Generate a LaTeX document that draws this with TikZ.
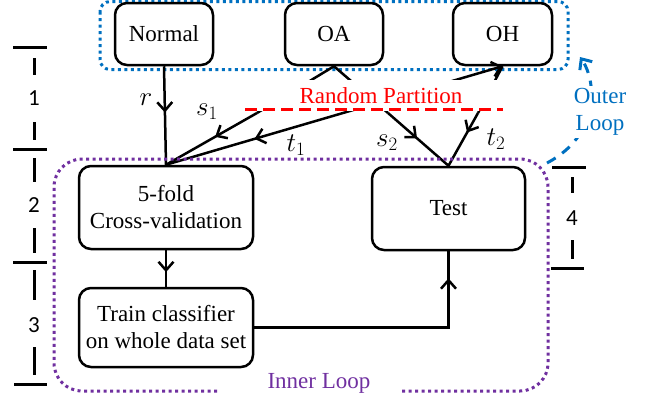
\RequirePackage{fix-cm}
\documentclass[tikz,border=0pt]{standalone}
\usepackage{fontspec}
\setmainfont{Liberation Serif}
\newfontfamily\numfont{Carlito}
\usetikzlibrary{arrows.meta,decorations.markings}
\definecolor{oblue}{RGB}{0,112,192}
\definecolor{opurple}{RGB}{112,48,160}
\definecolor{ored}{RGB}{255,0,0}
\begin{document}
\begin{tikzpicture}[x=1pt,y=-1pt,
  box/.style={draw, line width=2.5pt, rounded corners=12pt, align=center,
    font=\fontsize{23}{27}\selectfont, inner sep=0pt},
  conn/.style={line width=2.5pt},
  barb/.style={-{Straight Barb[length=8.5pt,width=15pt]}},
  midarrow/.style={postaction={decorate}, decoration={markings,
    mark=at position #1 with {\arrow{Straight Barb[length=8.5pt,width=15pt]}}}},
  lbl/.style={font=\fontsize{23}{27}\selectfont, inner sep=0pt},
  mlbl/.style={font=\fontsize{27}{30}\selectfont, inner sep=0pt},
  num/.style={font=\numfont\fontsize{23}{27}\selectfont, inner sep=0pt},
  tick/.style={line width=3pt}
]
\useasboundingbox (0,0) rectangle (645,402);

% outer frame
\draw[oblue, line width=3pt, dash pattern=on 3pt off 3.5pt, rounded corners=10pt]
  (100,1.5) rectangle (568,69.5);

% top boxes
\node[box, minimum width=98pt, minimum height=62pt] (normal) at (164,34) {Normal};
\node[box, minimum width=98pt, minimum height=62pt] (oa) at (334,34) {OA};
\node[box, minimum width=99pt, minimum height=62pt] (oh) at (502.5,34) {OH};

% lower boxes
\node[box, minimum width=174pt, minimum height=83pt] (five) at (166,207.5) {5-fold\\Cross-validation};
\node[box, minimum width=174pt, minimum height=79pt] (train) at (166,327.5) {Train classifier\\on whole data set};
\node[box, minimum width=153pt, minimum height=83pt] (test) at (448.5,208.5) {Test};

% partition points
\coordinate (ps1) at (257,113);
\coordinate (pt1) at (343,113);
\coordinate (ps2) at (388,113);
\coordinate (pt2) at (478,113);

% upper stubs (partly hidden behind the partition label)
\draw[conn] (oa.south) -- (ps1);
\draw[conn] (oa.south) -- (ps2);
\draw[conn] (pt2) -- (oh.south);
\draw[conn, barb] (pt1) -- (oh.south);
\fill[white] (245,79.5) rectangle (512,111);

% random partition
\coordinate (rpl) at (245,109);
\coordinate (rpr) at (503,109);
\draw[ored, line width=3pt, dash pattern=on 12pt off 6pt] (rpl) -- (rpr);
\node[lbl, text=ored] (rp) at (381,96) {Random Partition};

% connectors
\draw[conn, midarrow=0.47] (normal.south) -- (five.north);
\draw[conn, midarrow=0.46] (ps1) -- (five.north);
\draw[conn, midarrow=0.50] (pt1) -- (five.north);
\draw[conn, midarrow=0.48] (ps2) -- (test.north);
\draw[conn, midarrow=0.37] (pt2) -- (test.north);
\draw[conn, midarrow=0.6] (five.south) -- (train.north);
\draw[conn, midarrow=0.9] (train.east) -| (test.south);

% connector labels
\node[mlbl] (lr) at (146,100) {$r$};
\node[mlbl] (ls1) at (207,112) {$s_1$};
\node[mlbl] (lt1) at (296,145) {$t_1$};
\node[mlbl] (ls2) at (387,143) {$s_2$};
\node[mlbl] (lt2) at (496,139) {$t_2$};

% inner loop frame
\draw[opurple, line width=3pt, dash pattern=on 3pt off 3.5pt, rounded corners=28pt]
  (217,391) -- (54,391) -- (54,159) -- (548,159) -- (548,391) -- (402,391);
\node[lbl, text=opurple] (inner) at (319,383) {Inner Loop};

% outer loop arrow
\coordinate (olstart) at (547,163);
\coordinate (olend) at (580,57);
\draw[oblue, line width=3pt, dash pattern=on 10pt off 8pt, -{Straight Barb[length=8.5pt,width=15pt]}]
  (olstart) .. controls (600,135) and (597,82) .. (olend);
\node[lbl, text=oblue, fill=white, align=center, inner sep=2pt] (outer) at (600,112) {Outer\\Loop};

% left step markers
\draw[tick] (13,47) -- (47,47);
\draw[tick] (13,149) -- (47,149);
\draw[tick] (13,262) -- (47,262);
\draw[tick] (14,384) -- (47,384);
\draw[tick] (34,58) -- (34,75);
\draw[tick] (34,122) -- (34,140);
\draw[tick] (34,158) -- (34,182);
\draw[tick] (34,228) -- (34,253);
\draw[tick] (34,270) -- (34,300);
\draw[tick] (34,347) -- (34,375);
\node[num] (n1) at (34,98) {1};
\node[num] (n2) at (34,205) {2};
\node[num] (n3) at (34,325) {3};

% right step marker
\draw[tick] (552,167) -- (586,167);
\draw[tick] (551,268) -- (584,268);
\draw[tick] (572,177) -- (572,193);
\draw[tick] (572,240) -- (572,259);
\node[num] (n4) at (572,218) {4};
\end{tikzpicture}
\end{document}
